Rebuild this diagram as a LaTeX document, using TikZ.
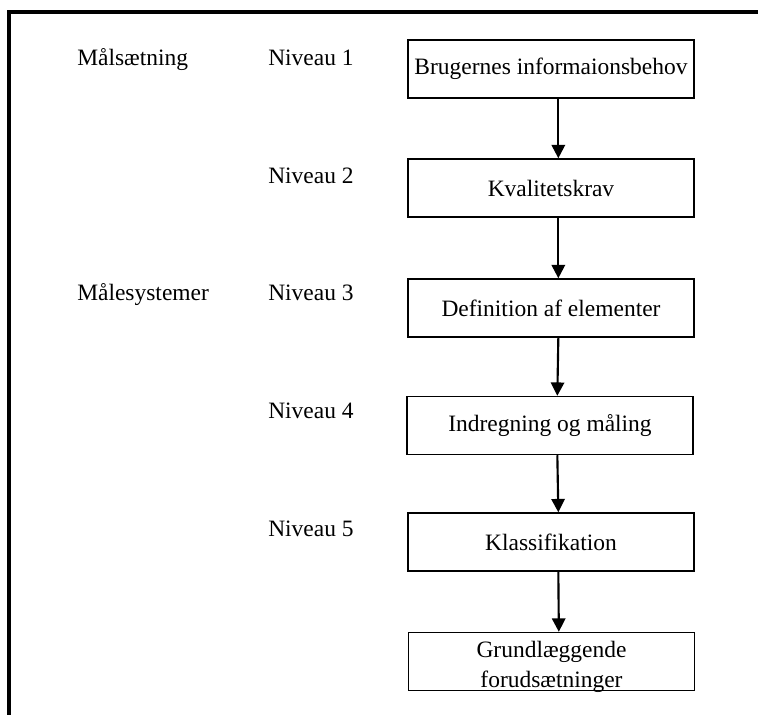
\documentclass[tikz,border=0pt]{standalone}
\usepackage{fontspec}
\setmainfont{Liberation Serif}
\usetikzlibrary{arrows.meta, positioning}

\tikzset{
  niveaubox/.style = {draw, line width=1.1pt, minimum width=214.5pt,
                      minimum height=43.5pt, inner sep=0pt},
  flowarrow/.style = {line width=1.6pt, -{Triangle[width=10pt,length=10pt]}},
  sidelabel/.style = {anchor=base west, inner sep=0pt}
}

\begin{document}
\begin{tikzpicture}[x=0.75pt, y=-0.75pt, font=\fontsize{17.6pt}{22.5pt}\selectfont]
            \useasboundingbox (0,0) rectangle (758,715);
            % frame
            \draw[line width=2.5pt] (9,715) -- (9,12) -- (758,12);

            % left column
            \node[sidelabel] (maal) at (77,65) {Målsætning};
            \node[sidelabel] (maalsys) at (77,300) {Målesystemer};

            % niveauer
            \node[sidelabel] (n1) at (268,65) {Niveau 1};
            \node[sidelabel] (n2) at (268,183) {Niveau 2};
            \node[sidelabel] (n3) at (268,300) {Niveau 3};
            \node[sidelabel] (n4) at (268,418) {Niveau 4};
            \node[sidelabel] (n5) at (268,536) {Niveau 5};

            % boxes
            \node[niveaubox] (b1) at (551,69) {Brugernes informaionsbehov};
            \node[niveaubox] (b2) at (551,188) {Kvalitetskrav};
            \node[niveaubox] (b3) at (551,308) {Definition af elementer};
            \node[niveaubox] (b4) at (550,425.5) {Indregning og måling};
            \node[niveaubox] (b5) at (551,542) {Klassifikation};
            \node[niveaubox] (b6) at (551.5,661.5)
                {\raisebox{-7.8pt}[0pt][0pt]{\begin{tabular}{@{}c@{}}Grundlæggende\\forudsætninger\end{tabular}}};

            \foreach \from/\to in {b1/b2, b2/b3, b3/b4, b4/b5, b5/b6}
                \draw[flowarrow] ([xshift=5.5pt]\from.south) -- ([xshift=5.5pt]\to.north);
        \end{tikzpicture}
\end{document}
